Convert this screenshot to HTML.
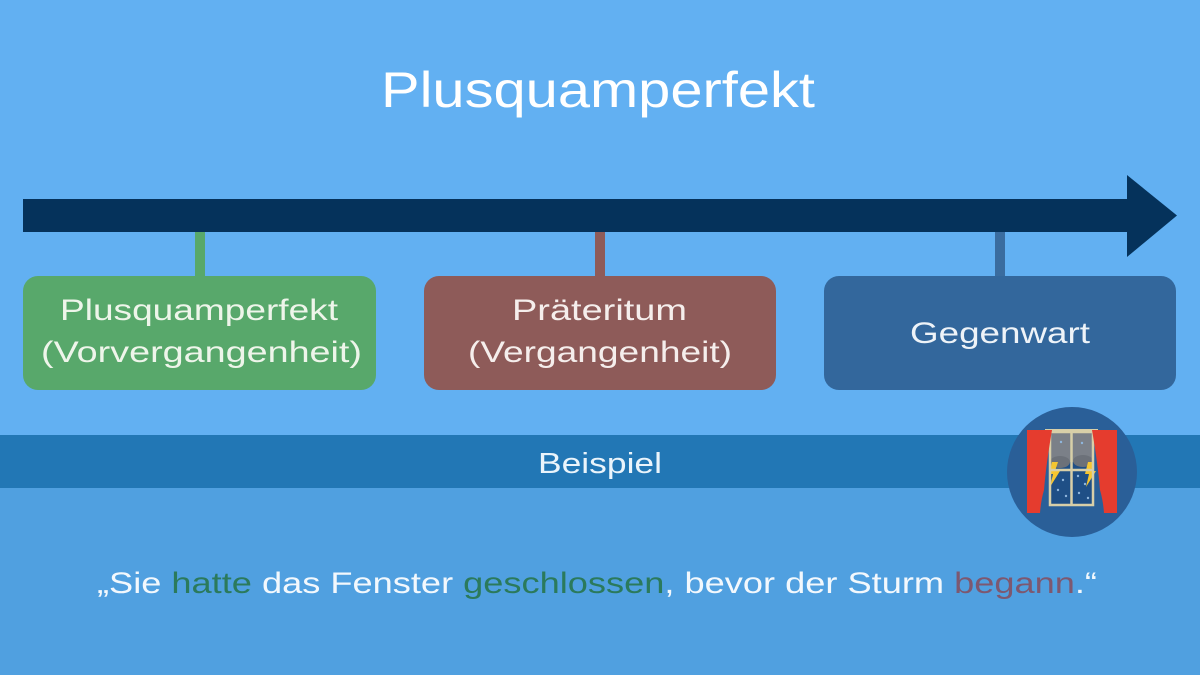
<!DOCTYPE html>
<html>
<head>
<meta charset="utf-8">
<style>
  html,body{margin:0;padding:0;width:1200px;height:675px;overflow:hidden;background:#62b0f2;}
  svg{display:block;}
  text{font-family:"Liberation Sans","DejaVu Sans",sans-serif;}
</style>
</head>
<body>
<svg width="1200" height="675" viewBox="0 0 1200 675" xmlns="http://www.w3.org/2000/svg">
  <!-- backgrounds -->
  <rect x="0" y="0" width="1200" height="675" fill="#62b0f2"/>
  <rect x="0" y="488" width="1200" height="187" fill="#50a0e0"/>
  <rect x="0" y="435" width="1200" height="53" fill="#2277b5"/>

  <!-- title -->
  <text x="381" y="107" font-size="50" fill="#ffffff" textLength="434" lengthAdjust="spacingAndGlyphs">Plusquamperfekt</text>

  <!-- timeline arrow -->
  <rect x="23" y="199" width="1106" height="33" fill="#05325b"/>
  <polygon points="1127,175 1177,215.5 1127,257" fill="#05325b"/>

  <!-- connectors -->
  <rect x="195" y="232" width="10" height="45" fill="#58a86b"/>
  <rect x="595" y="232" width="10" height="45" fill="#8e5b59"/>
  <rect x="995" y="232" width="10" height="45" fill="#3a6c9f"/>

  <!-- boxes -->
  <rect x="23" y="276" width="353" height="114" rx="15" fill="#58a86b"/>
  <rect x="424" y="276" width="352" height="114" rx="15" fill="#8e5b59"/>
  <rect x="824" y="276" width="352" height="114" rx="15" fill="#33679c"/>

  <!-- box texts -->
  <text x="60" y="320" font-size="30" fill="#eef5ea" textLength="278" lengthAdjust="spacingAndGlyphs">Plusquamperfekt</text>
  <text x="41" y="362" font-size="30" fill="#eef5ea" textLength="321" lengthAdjust="spacingAndGlyphs">(Vorvergangenheit)</text>

  <text x="512" y="320" font-size="30" fill="#f5eeec" textLength="175" lengthAdjust="spacingAndGlyphs">Präteritum</text>
  <text x="468" y="362" font-size="30" fill="#f5eeec" textLength="264" lengthAdjust="spacingAndGlyphs">(Vergangenheit)</text>

  <text x="910" y="343" font-size="30" fill="#eef3f8" textLength="180" lengthAdjust="spacingAndGlyphs">Gegenwart</text>

  <!-- Beispiel -->
  <text x="538" y="473" font-size="29" fill="#eaf4fb" textLength="124" lengthAdjust="spacingAndGlyphs">Beispiel</text>

  <!-- sentence -->
  <text x="97" y="593" font-size="30" fill="#f2f8fd" textLength="1000" lengthAdjust="spacingAndGlyphs">„Sie <tspan fill="#2b7a5c">hatte</tspan> das Fenster <tspan fill="#2b7a5c">geschlossen</tspan>, bevor der Sturm <tspan fill="#7d5870">begann</tspan>.“</text>

  <!-- icon -->
  <circle cx="1072" cy="472" r="65" fill="#2a5f98"/>
  <!-- window interior -->
  <rect x="1050" y="432" width="43" height="73" fill="#1f4f86"/>
  <rect x="1050" y="432" width="43" height="30" fill="#7b8088"/>
  <ellipse cx="1060" cy="462" rx="10" ry="6" fill="#6c7179"/>
  <ellipse cx="1083" cy="461" rx="10" ry="6" fill="#6c7179"/>
  <!-- rain drops -->
  <g fill="#8fb6dd">
    <circle cx="1056" cy="474" r="1.2"/><circle cx="1063" cy="480" r="1.2"/>
    <circle cx="1058" cy="490" r="1.2"/><circle cx="1066" cy="496" r="1.2"/>
    <circle cx="1078" cy="476" r="1.2"/><circle cx="1085" cy="484" r="1.2"/>
    <circle cx="1079" cy="493" r="1.2"/><circle cx="1088" cy="498" r="1.2"/>
    <circle cx="1061" cy="442" r="1.2"/><circle cx="1082" cy="443" r="1.2"/>
  </g>
  <!-- lightning -->
  <polygon points="1052,462 1058,462 1055,471 1060,471 1050,487 1053,474 1049,474" fill="#f6c630"/>
  <polygon points="1088,462 1094,462 1091,471 1096,471 1086,487 1089,474 1085,474" fill="#f6c630"/>
  <!-- frame -->
  <g fill="none" stroke="#d8cfa8" stroke-width="2.5">
    <rect x="1050" y="432" width="43" height="73"/>
    <line x1="1071.5" y1="432" x2="1071.5" y2="505"/>
    <line x1="1050" y1="470" x2="1093" y2="470"/>
  </g>
  <rect x="1045" y="429" width="53" height="3" fill="#d8cfa8"/>
  <!-- curtains -->
  <path d="M1027,430 L1052,430 Q1046,465 1044,490 Q1041,500 1040,513 L1027,513 Z" fill="#e53c2e"/>
  <path d="M1117,430 L1092,430 Q1098,465 1100,490 Q1103,500 1104,513 L1117,513 Z" fill="#e53c2e"/>
</svg>
</body>
</html>
